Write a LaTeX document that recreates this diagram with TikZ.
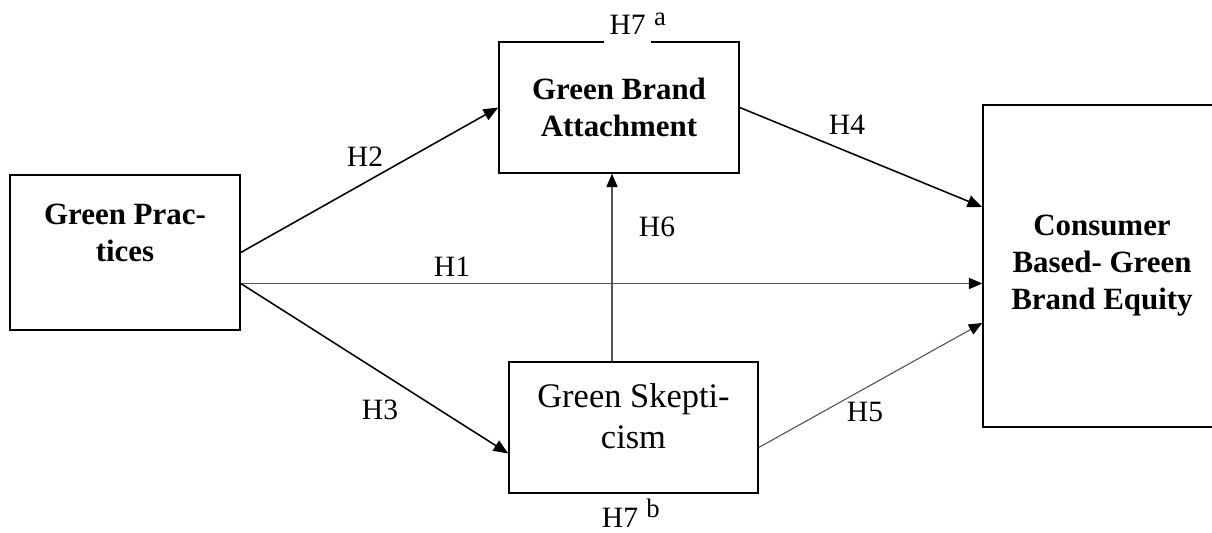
\documentclass[tikz,border=0pt]{standalone}
\usepackage{fontspec}
\setmainfont{Liberation Serif}
\usetikzlibrary{arrows.meta,calc}
\definecolor{grau}{HTML}{555555}
\newcommand{\hoch}[1]{\rlap{\hspace{6pt}\raisebox{7pt}{\fontsize{19}{19}\selectfont #1}}}
\tikzset{
  box/.style={draw=black,line width=1.1pt,inner sep=0pt},
  titel/.style={font=\fontsize{22}{26.3}\selectfont\bfseries,align=center},
  titelr/.style={font=\fontsize{24.5}{29.2}\selectfont,align=center},
  link/.style={-{Triangle[length=10.5pt,width=8.5pt]},black,line width=1.1pt},
  linkg/.style={-{Triangle[length=9.5pt,width=8pt,color=black]},grau,line width=0.8pt},
  hyp/.style={font=\fontsize{21}{24}\selectfont,inner sep=1pt},
}

\begin{document}
\begin{tikzpicture}
  \path[use as bounding box,clip] (0,0) rectangle (30.3,13.3);
  % constructs
  \node[box,minimum width=5.75cm,minimum height=3.875cm] (gp) at (3.125,6.9875) {};
  \node[titel] (gpt) at ([yshift=0.5cm]gp.center) {Green Prac-\\tices};
  \node[box,titel,minimum width=6cm,minimum height=3.275cm] (gba) at (15.475,10.6125) {Green Brand\\Attachment};
  \node[box,minimum width=6.225cm,minimum height=3.275cm] (gs) at (15.8375,2.6125) {};
  \node[titelr] (gst) at ([yshift=0.29cm]gs.center) {Green Skepti-\\cism};
  \node[box,titel,minimum width=5.95cm,minimum height=8.05cm] (cbe) at (27.55,6.65) {Consumer\\Based- Green\\Brand Equity};
  % paths
  \coordinate (gpo) at ([yshift=-0.775cm]gp.east);
  \coordinate (h6s) at ([xshift=-0.5375cm]gs.north);
  \draw[link] (gp.east) -- (gba.west);
  \draw[linkg] (gpo) -- (gpo -| cbe.west);
  \draw[link] (gpo) -- ([yshift=-0.65cm]gs.west);
  \draw[link] (gba.east) -- ([yshift=1.475cm]cbe.west);
  \draw[linkg] ([yshift=-0.5cm]gs.east) -- ([yshift=-1.425cm]cbe.west);
  \draw[linkg] (h6s) -- (h6s |- gba.south);
  % labels
  \node[hyp] (h1) at (11.3,6.625) {H1};
  \node[hyp] (h2) at (9.125,9.375) {H2};
  \node[hyp] (h3) at (9.5,3.05) {H3};
  \node[hyp] (h4) at (21.175,10.175) {H4};
  \node[hyp] (h5) at (21.625,3.0) {H5};
  \node[hyp] (h6) at (16.425,7.625) {H6};
  \node[hyp,fill=white,inner xsep=4pt,inner ysep=7pt,anchor=base] (h7a) at (15.69,12.425) {H7\hoch{a}};
  \node[hyp,anchor=base] (h7b) at (15.5,0.12) {H7\hoch{b}};
\end{tikzpicture}
\end{document}
